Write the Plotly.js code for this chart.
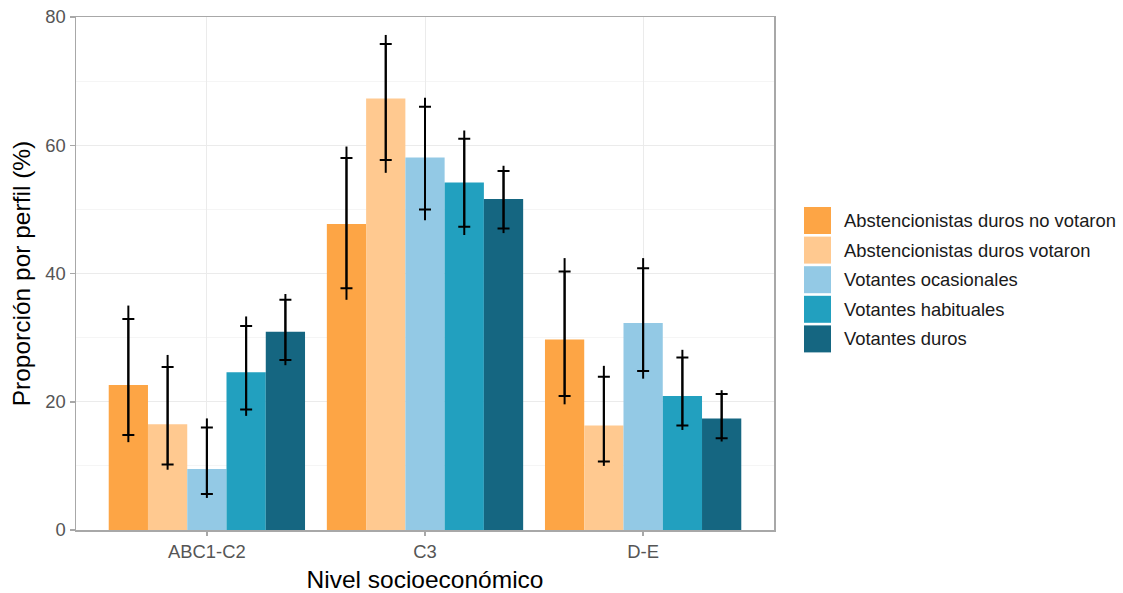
<!DOCTYPE html>
<html>
<head>
<meta charset="utf-8">
<script src="https://cdn.plot.ly/plotly-3.0.1.min.js"></script>
<style>
html,body{margin:0;padding:0;background:#fff;}
#chart{width:1123px;height:593px;}
</style>
</head>
<body>
<div id="chart"></div>
<script>
// ---- data ----
const categories = ['ABC1-C2', 'C3', 'D-E'];
const seriesNames = [
  'Abstencionistas duros no votaron',
  'Abstencionistas duros votaron',
  'Votantes ocasionales',
  'Votantes habituales',
  'Votantes duros'
];
const seriesColors = ['#FDA545', '#FFC990', '#93C9E5', '#22A0BF', '#156681'];

const abstNoVotaron = [22.6, 47.7, 29.7];
const abstVotaron   = [16.5, 67.3, 16.3];
const ocasionales   = [9.5, 58.1, 32.3];
const habituales    = [24.6, 54.2, 20.9];
const duros         = [30.9, 51.6, 17.4];

// outer interval (line without caps)
const outerLow_abstNoVotaron  = [13.7, 35.9, 19.6];
const outerHigh_abstNoVotaron = [35.0, 59.8, 42.4];
const outerLow_abstVotaron    = [9.4, 55.7, 10.0];
const outerHigh_abstVotaron   = [27.3, 77.2, 25.6];
const outerLow_ocasionales    = [5.0, 48.3, 23.6];
const outerHigh_ocasionales   = [17.4, 67.4, 42.4];
const outerLow_habituales     = [17.8, 46.0, 15.6];
const outerHigh_habituales    = [33.3, 62.3, 28.1];
const outerLow_duros          = [25.7, 46.3, 13.8];
const outerHigh_duros         = [36.8, 56.8, 21.8];

// inner interval (with caps)
const innerLow_abstNoVotaron  = [14.8, 37.7, 20.9];
const innerHigh_abstNoVotaron = [32.9, 58.0, 40.3];
const innerLow_abstVotaron    = [10.2, 57.7, 10.7];
const innerHigh_abstVotaron   = [25.4, 75.8, 23.9];
const innerLow_ocasionales    = [5.6, 50.0, 24.8];
const innerHigh_ocasionales   = [16.0, 66.0, 40.8];
const innerLow_habituales     = [18.8, 47.3, 16.3];
const innerHigh_habituales    = [31.8, 61.0, 26.9];
const innerLow_duros          = [26.5, 47.0, 14.3];
const innerHigh_duros         = [35.9, 56.0, 21.2];

const yTickVals = [0, 20, 40, 60, 80];
const xTitle = 'Nivel socioeconómico';
const yTitle = 'Proporción por perfil (%)';

// ---- build ----
const values = [abstNoVotaron, abstVotaron, ocasionales, habituales, duros];
const outerLow = [outerLow_abstNoVotaron, outerLow_abstVotaron, outerLow_ocasionales, outerLow_habituales, outerLow_duros];
const outerHigh = [outerHigh_abstNoVotaron, outerHigh_abstVotaron, outerHigh_ocasionales, outerHigh_habituales, outerHigh_duros];
const innerLow = [innerLow_abstNoVotaron, innerLow_abstVotaron, innerLow_ocasionales, innerLow_habituales, innerLow_duros];
const innerHigh = [innerHigh_abstNoVotaron, innerHigh_abstVotaron, innerHigh_ocasionales, innerHigh_habituales, innerHigh_duros];

const traces = [];
values.forEach((v, i) => {
  traces.push({
    type: 'bar', x: categories, y: v, name: seriesNames[i],
    marker: {color: seriesColors[i], line: {width: 0}},
    xaxis: 'x', yaxis: 'y', showlegend: false, hoverinfo: 'x+y+name',
    error_y: {
      type: 'data', symmetric: false,
      array: v.map((d, k) => innerHigh[i][k] - d),
      arrayminus: v.map((d, k) => d - innerLow[i][k]),
      color: '#000000', thickness: 2, width: 6
    }
  });
});
values.forEach((v, i) => {
  traces.push({
    type: 'bar', x: categories, y: v, name: seriesNames[i],
    marker: {color: 'rgba(0,0,0,0)', line: {width: 0}},
    xaxis: 'x2', yaxis: 'y', showlegend: false, hoverinfo: 'skip',
    error_y: {
      type: 'data', symmetric: false,
      array: v.map((d, k) => outerHigh[i][k] - d),
      arrayminus: v.map((d, k) => d - outerLow[i][k]),
      color: '#000000', thickness: 2, width: 0
    }
  });
});

// manual legend (large ggplot-like keys)
const L = 76, R = 774, T = 17, B = 530;
const W = R - L, H = B - T;
const px2x = p => (p - L) / W;
const py2y = p => (B - p) / H;
const shapes = [];
const annotations = [];
seriesNames.forEach((n, i) => {
  const cy = 220.5 + i * 29.6;
  shapes.push({
    type: 'rect', xref: 'paper', yref: 'paper',
    x0: px2x(804), x1: px2x(831), y0: py2y(cy + 13.5), y1: py2y(cy - 13.5),
    fillcolor: seriesColors[i], line: {width: 0}
  });
  annotations.push({
    xref: 'paper', yref: 'paper', x: px2x(842), y: py2y(cy),
    xanchor: 'left', yanchor: 'middle', showarrow: false, text: n,
    font: {family: 'Liberation Sans, Arial, sans-serif', size: 18.4, color: '#1a1a1a'}
  });
});

const layout = {
  width: 1123, height: 593,
  margin: {l: L, r: 1123 - R, t: T, b: 593 - B, pad: 0},
  paper_bgcolor: '#ffffff', plot_bgcolor: '#ffffff',
  barmode: 'group', bargap: 0.1, bargroupgap: 0,
  showlegend: false,
  font: {family: 'Liberation Sans, Arial, sans-serif', color: '#4d4d4d'},
  xaxis: {
    type: 'category', range: [-0.6, 2.6],
    showgrid: true, gridcolor: '#ebebeb', gridwidth: 1,
    showline: true, mirror: true, linecolor: '#a8a8a8', linewidth: 1.5,
    ticks: 'outside', ticklen: 4, tickcolor: '#a8a8a8', tickwidth: 1.5,
    tickfont: {size: 18.4, color: '#555555'},
    title: {text: xTitle, font: {size: 24.5, color: '#000000'}, standoff: 10},
    zeroline: false, fixedrange: true
  },
  xaxis2: {
    type: 'category', range: [-0.6, 2.6], overlaying: 'x', visible: false,
    matches: 'x'
  },
  yaxis: {
    range: [0, 80], tickvals: yTickVals,
    showgrid: true, gridcolor: '#ebebeb', gridwidth: 1,
    minor: {dtick: 10, showgrid: true, gridcolor: '#f5f5f5', gridwidth: 1},
    showline: true, mirror: true, linecolor: '#a8a8a8', linewidth: 1.5,
    ticks: 'outside', ticklen: 5, tickcolor: '#a8a8a8', tickwidth: 1.5,
    tickfont: {size: 18.4, color: '#555555'},
    title: {text: yTitle, font: {size: 24.5, color: '#000000'}, standoff: 8},
    zeroline: false, fixedrange: true
  },
  shapes: shapes,
  annotations: annotations
};

Plotly.newPlot('chart', traces, layout, {displayModeBar: false, staticPlot: true});
</script>
</body>
</html>
